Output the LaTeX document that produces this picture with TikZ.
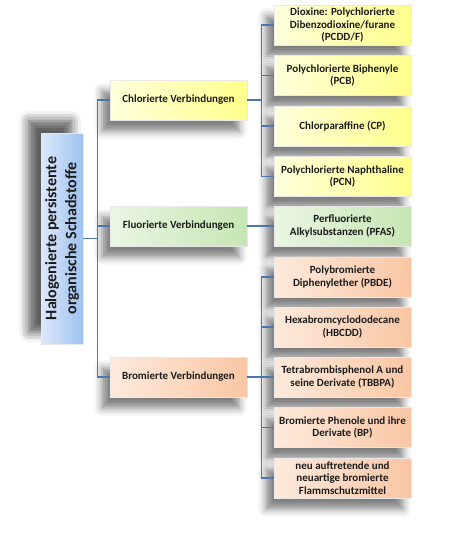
\documentclass[tikz,border=0pt]{standalone}
\usepackage{fontspec}
\setmainfont{Carlito}
\usepackage{tikz}
\usetikzlibrary{calc,shadows.blur}
\definecolor{linkblue}{HTML}{4A78AE}
\definecolor{rootlo}{HTML}{DCE8FA}
\definecolor{roothi}{HTML}{9EC2F0}
\definecolor{chllo}{HTML}{FFFFDC}
\definecolor{chlhi}{HTML}{FFFF8C}
\definecolor{fluhi}{HTML}{C6E6B4}
\definecolor{flulo}{HTML}{EAF6E2}
\definecolor{brolo}{HTML}{FDEADC}
\definecolor{brohi}{HTML}{F9C6A4}
\definecolor{boxtext}{HTML}{1C1C1C}

\begin{document}
\begin{tikzpicture}[x=1pt,y=-1pt,
  font=\fontsize{11}{12.5}\selectfont\bfseries, text=boxtext,
  box/.style={draw=white!82!gray, line width=0.6pt, align=center,
    minimum width=137pt, minimum height=40pt, inner sep=1pt,
    blur shadow={shadow xshift=-8pt, shadow yshift=-11pt,
      shadow blur radius=8pt, shadow opacity=50}},
  chl/.style={box, left color=chllo, right color=chlhi},
  flu/.style={box, left color=flulo, right color=fluhi},
  bro/.style={box, left color=brolo, right color=brohi},
  link/.style={draw=linkblue, line width=1.1pt}]
  \useasboundingbox (0,0) rectangle (450,541);

  \node[box, rotate=90, minimum width=211pt, minimum height=42pt,
    left color=rootlo, right color=roothi,
    blur shadow={shadow xshift=-12pt, shadow yshift=12pt,
      shadow blur radius=10pt, shadow opacity=40},
    font=\fontsize{16}{20}\selectfont\bfseries] (root) at (62,238.5)
    {Halogenierte persistente\\organische Schadstoffe};

  \node[chl] (chlor) at (178.5,100) {Chlorierte Verbindungen};
  \node[flu] (fluor) at (178.5,226) {Fluorierte Verbindungen};
  \node[bro] (brom) at (178.5,377) {Bromierte Verbindungen};

  \node[chl] (pcdd) at (342.5,25) {Dioxine: Polychlorierte\\Dibenzodioxine/furane\\(PCDD/F)};
  \node[chl] (pcb) at (342.5,75.5) {Polychlorierte Biphenyle\\(PCB)};
  \node[chl] (cp) at (342.5,126) {Chlorparaffine (CP)};
  \node[chl] (pcn) at (342.5,176.5) {Polychlorierte Naphthaline\\(PCN)};
  \node[flu] (pfas) at (342.5,226) {Perfluorierte\\Alkylsubstanzen (PFAS)};
  \node[bro] (pbde) at (342.5,277) {Polybromierte\\Diphenylether (PBDE)};
  \node[bro] (hbcdd) at (342.5,327) {Hexabromcyclododecane\\(HBCDD)};
  \node[bro] (tbbpa) at (342.5,377) {Tetrabrombisphenol A und\\seine Derivate (TBBPA)};
  \node[bro] (bp) at (342.5,427.5) {Bromierte Phenole und ihre\\Derivate (BP)};
  \node[bro] (nbfr) at (342.5,478) {neu auftretende und\\neuartige bromierte\\Flammschutzmittel};

  \foreach \n in {chlor,fluor,brom}
    \draw[link] (root.south) -- ++(14,0) |- (\n.west);
  \foreach \n in {pcdd,pcb,cp,pcn}
    \draw[link] (chlor.east) -- ++(14,0) |- (\n.west);
  \draw[link] (fluor.east) -- (pfas.west);
  \foreach \n in {pbde,hbcdd,tbbpa,bp,nbfr}
    \draw[link] (brom.east) -- ++(14,0) |- (\n.west);
\end{tikzpicture}
\end{document}
